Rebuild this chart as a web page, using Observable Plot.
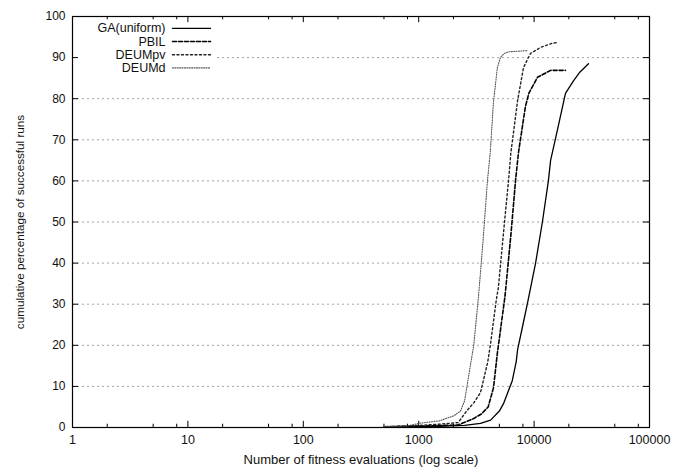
<!DOCTYPE html>
<html>
<head>
<meta charset="utf-8">
<script src="https://cdn.jsdelivr.net/npm/d3@7"></script>
<script src="https://cdn.jsdelivr.net/npm/@observablehq/plot@0.6"></script>
<style>
  body { margin: 0; background: #fff; }
  #chart svg { display: block; }
</style>
</head>
<body>
<div id="chart"></div>
<script>
// ---- data (x: fitness evaluations, y: cumulative % of successful runs)
const seriesNames = ["GA(uniform)", "PBIL", "DEUMpv", "DEUMd"];

const gaEvals   = [600, 1500, 2500, 3430, 4200, 5000, 5430, 6470, 7000, 7200, 8000, 8800, 10300, 11800, 13300, 13900, 15900, 18700, 22000, 25000, 29600];
const gaPct     = [0.1, 0.3, 0.5, 1, 1.8, 4, 5.8, 11.4, 16, 19, 25, 30.5, 40, 50, 60, 65, 72.3, 81.3, 84.4, 86.5, 88.5];

const pbilEvals = [500, 1200, 2200, 3000, 3500, 4000, 4450, 4800, 5600, 6300, 6900, 7330, 8400, 9000, 10700, 13900, 18700];
const pbilPct   = [0.2, 0.4, 0.6, 2.2, 3.3, 5, 9.7, 18, 32, 47, 60, 67, 78, 81.3, 85.2, 86.9, 86.9];

const deumpvEvals = [550, 1000, 1500, 2200, 2600, 3000, 3430, 3970, 4200, 4700, 4900, 5500, 6000, 6300, 7200, 8100, 9300, 11400, 14000, 15900];
const deumpvPct   = [0.2, 0.5, 0.8, 1.2, 4, 6, 8.5, 16, 20.5, 31, 34, 49, 60, 67, 79.6, 87.6, 91, 92.5, 93.4, 93.7];

const deumdEvals = [500, 800, 1000, 1500, 2000, 2300, 2500, 2800, 3000, 3300, 3600, 3940, 4170, 4440, 4800, 5100, 5500, 6000, 8700];
const deumdPct   = [0.2, 0.4, 1, 1.6, 2.8, 4, 6.5, 15, 20, 32, 45, 60, 67, 79, 87.5, 90, 91, 91.4, 91.7];

const xTicks = [1, 10, 100, 1000, 10000, 100000];
const yTicks = [0, 10, 20, 30, 40, 50, 60, 70, 80, 90, 100];
const xMinorFactors = [2, 5, 8];

const xLabel = "Number of fitness evaluations (log scale)";
const yLabel = "cumulative percentage of successful runs";

// ---- styles
const styles = [
  {stroke: "#000", strokeWidth: 1.3, dash: null},
  {stroke: "#000", strokeWidth: 1.6, dash: "4,2"},
  {stroke: "#222", strokeWidth: 1.4, dash: "2,2.5"},
  {stroke: "#555", strokeWidth: 1.1, dash: "1,1.4"}
];

const seriesData = [
  [gaEvals, gaPct], [pbilEvals, pbilPct], [deumpvEvals, deumpvPct], [deumdEvals, deumdPct]
].map(([xs, ys], i) => xs.map((x, j) => ({name: seriesNames[i], x, y: ys[j]})));

const minorTicks = xTicks.slice(0, -1).flatMap(t => xMinorFactors.map(f => t * f));
const gridY = yTicks.filter(v => v > 0 && v < 100);

const xMin = xTicks[0], xMax = xTicks[xTicks.length - 1];
const tickLenX = 1.127;  // factor in log space ≈ 6px
const majorLenY = 1.5, minorLenY = 0.8;

// legend layout in data space
const legendTextX = 6.4, legendLineX1 = 7.35, legendLineX2 = 15.7;
const legendY = i => 97.1 - i * 3.2;

const marks = [
  Plot.ruleY(gridY, {stroke: "#9a9a9a", strokeWidth: 0.9, strokeDasharray: "2,3"}),
  Plot.rect([0], {x1: 1.03, x2: 17, y1: 85.5, y2: 99.2, fill: "white"}),
  Plot.ruleX(xTicks, {y1: 0, y2: majorLenY, stroke: "#000"}),
  Plot.ruleX(xTicks, {y1: 100, y2: 100 - majorLenY, stroke: "#000"}),
  Plot.ruleX(minorTicks, {y1: 0, y2: minorLenY, stroke: "#000"}),
  Plot.ruleX(minorTicks, {y1: 100, y2: 100 - minorLenY, stroke: "#000"}),
  Plot.ruleY(yTicks, {x1: xMin, x2: xMin * tickLenX, stroke: "#000"}),
  Plot.ruleY(yTicks, {x1: xMax / tickLenX, x2: xMax, stroke: "#000"}),
  ...seriesData.map((d, i) => Plot.line(d, {
    x: "x", y: "y", stroke: styles[i].stroke, strokeWidth: styles[i].strokeWidth,
    strokeDasharray: styles[i].dash, curve: "linear"
  })),
  ...seriesNames.map((n, i) => Plot.text([n], {
    x: legendTextX, y: legendY(i), text: d => d, textAnchor: "end",
    fontSize: 12.5, fill: "#111"
  })),
  ...seriesNames.map((n, i) => Plot.line([[legendLineX1, legendY(i)], [legendLineX2, legendY(i)]], {
    stroke: styles[i].stroke, strokeWidth: styles[i].strokeWidth, strokeDasharray: styles[i].dash
  })),
  Plot.axisX({ticks: xTicks, tickFormat: d3.format("d"), tickSize: 0, tickPadding: 8, fontSize: 12.5, label: null}),
  Plot.axisX({ticks: [], tickSize: 0, label: xLabel, labelAnchor: "center", labelArrow: "none", labelOffset: 36, fontSize: 13}),
  Plot.axisY({ticks: yTicks, tickSize: 0, tickPadding: 7, fontSize: 12, label: null}),
  Plot.axisY({ticks: [], tickSize: 0, label: yLabel, labelAnchor: "center", labelArrow: "none", labelOffset: 57, fontSize: 11.7}),
  Plot.frame({stroke: "#000", strokeWidth: 1.2})
];

const chart = Plot.plot({
  width: 673,
  height: 467,
  marginLeft: 72,
  marginRight: 24,
  marginTop: 16,
  marginBottom: 40,
  style: {fontFamily: "'Liberation Sans', Arial, sans-serif", fontSize: "12px", color: "#111", background: "#fff"},
  x: {type: "log", domain: [xMin, xMax]},
  y: {domain: [0, 100]},
  marks
});
document.getElementById("chart").appendChild(chart);
</script>
</body>
</html>
